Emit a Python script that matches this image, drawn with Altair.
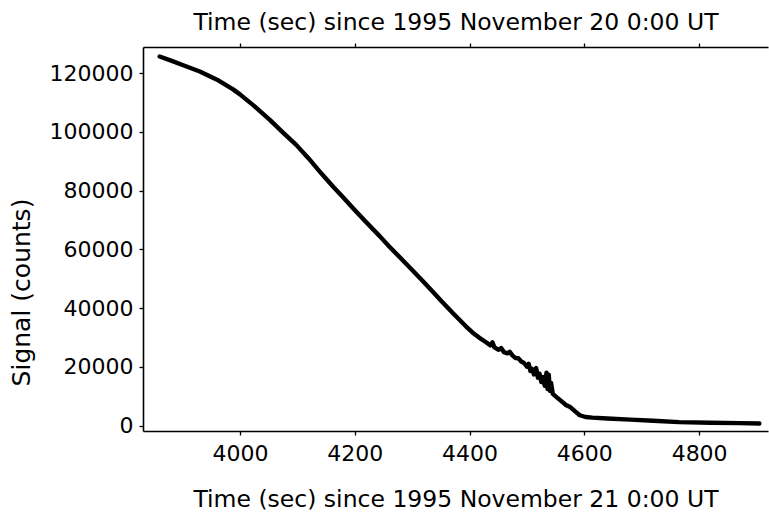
import altair as alt
import pandas as pd

# Time (sec) since 1995 November 21 0:00 UT
time_sec = [
    3860, 3880, 3900, 3930, 3960, 3988, 4000, 4025, 4052, 4075, 4098, 4120,
    4139, 4162, 4180, 4197, 4220, 4243, 4260, 4278, 4300, 4318, 4336, 4350,
    4372, 4394, 4405, 4420, 4430, 4436, 4440, 4443, 4450, 4455, 4460, 4466, 4470,
    4475, 4480, 4485, 4490, 4495, 4500, 4503, 4506, 4509, 4512, 4516, 4519,
    4522, 4525, 4528, 4531, 4534, 4536, 4538, 4540, 4542, 4545, 4552, 4560,
    4568, 4576, 4584, 4592, 4602, 4614, 4640, 4680, 4720, 4765, 4820, 4870,
    4905,
]
# Signal (counts)
signal = [
    125700, 124300, 122800, 120600, 117800, 114500, 112800, 108800, 104100, 99800, 95600, 90900,
    86500, 81400, 77700, 74000, 69200, 64600, 61000, 57400, 53000, 49300, 45600, 42600,
    38100, 33700, 31700, 29500, 28200, 27300, 28300, 26700, 25800, 26400, 25000, 24600, 25100,
    23800, 23000, 22900, 21800, 21300, 20000, 21000, 18600, 19300, 17400, 19600, 16300,
    17600, 14800, 16500, 13500, 18000, 12400, 17300, 11800, 14500, 10800, 9600, 8300,
    7000, 6200, 4800, 3500, 2900, 2700, 2400, 2000, 1600, 1150, 950, 800,
    700,
]

x_ticks = [4000, 4200, 4400, 4600, 4800]
y_ticks = [0, 20000, 40000, 60000, 80000, 100000, 120000]

top_title = "Time (sec) since 1995 November 20 0:00 UT"
bottom_title = "Time (sec) since 1995 November 21 0:00 UT"
y_title = "Signal (counts)"

df = pd.DataFrame({"t": time_sec, "s": signal})

FONT = "DejaVu Sans"
x_scale = alt.Scale(domain=[3831, 4920], nice=False, zero=False)
y_scale = alt.Scale(domain=[-1870, 128940], nice=False, zero=False)

common_axis = dict(
    domainColor="black", domainWidth=1.6, tickColor="black", tickWidth=1.3,
    tickSize=4, grid=False, labelFont=FONT, titleFont=FONT,
    labelColor="black", titleColor="black", titleFontWeight="normal",
)

line = alt.Chart(df).mark_line(
    color="black", strokeWidth=4.4, strokeJoin="round", strokeCap="round"
).encode(
    x=alt.X("t:Q", scale=x_scale, axis=alt.Axis(
        values=x_ticks, format="d", orient="bottom", title=bottom_title,
        labelFontSize=22, labelPadding=25, labelBaseline="alphabetic",
        titleFontSize=23.5, titleY=75, titleBaseline="alphabetic",
        titleAnchor="middle", **common_axis)),
    y=alt.Y("s:Q", scale=y_scale, axis=alt.Axis(
        values=y_ticks, format="d", orient="left", title=y_title,
        labelFontSize=22, labelPadding=6,
        titleFontSize=25, titleAngle=270, titleX=-122, titleY=245,
        titleAlign="center", titleBaseline="middle", **common_axis)),
)

top = alt.Chart(df).mark_point(opacity=0).encode(
    x=alt.X("t:Q", scale=x_scale, axis=alt.Axis(
        values=x_ticks, orient="top", labels=False, title=top_title,
        titleFontSize=23.5, titleY=-18, titleBaseline="alphabetic",
        titleAnchor="middle", **common_axis)),
    y=alt.Y("s:Q", scale=y_scale, axis=None),
)

chart = alt.layer(line, top).resolve_axis(x="independent", y="independent").properties(
    width=625, height=384,
    autosize=alt.AutoSizeParams(type="none"),
    padding={"left": 143, "top": 47, "right": 1, "bottom": 89},
    background="white",
).configure_view(stroke=None)

chart.save("out.html", embed_options={"renderer": "svg", "actions": False})
